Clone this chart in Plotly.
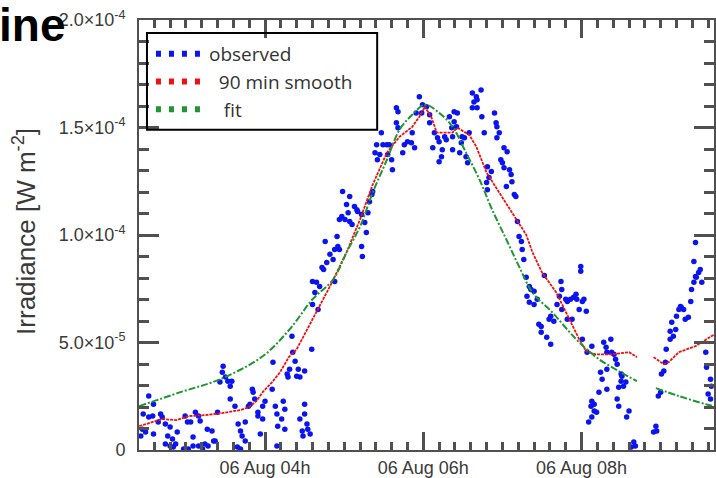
import pandas as pd
import plotly.graph_objects as go

DAY = "2010-08-06"
SCALE = 1e-5  # values below are in units of 1e-5 W m^-2

# ---------------- data (time in decimal hours of 06 Aug) ----------------
obs_hours = [
    2.53, 2.59, 2.46, 2.53, 2.58, 2.68, 2.70, 2.45, 2.49, 2.59,
    2.65, 2.74, 2.80, 2.77, 2.83, 2.87, 2.80, 2.89, 2.99, 3.02,
    3.06, 3.12, 3.16, 3.18, 3.09, 3.09, 3.16, 3.24, 3.28, 3.27,
    3.33, 3.35, 3.40, 3.43, 3.46, 3.47, 3.50, 3.53, 3.58, 3.56,
    3.56, 3.62, 3.66, 3.69, 3.71, 3.75, 3.75, 3.79, 3.81, 3.84,
    3.85, 3.87, 3.91, 3.91, 3.97, 3.97, 4.00, 3.94, 4.09, 4.10,
    4.13, 4.15, 4.16, 4.15, 2.43, 2.97, 3.03, 3.21, 3.65, 3.69,
    2.84, 2.74, 3.37,
    4.23, 4.25, 4.21, 4.25, 4.28, 4.31, 4.35, 4.38, 4.40, 4.42,
    4.34, 4.29, 4.44, 4.50, 4.44, 4.47, 4.50, 4.50, 4.53, 4.54,
    4.48, 4.57, 4.59, 4.60, 4.63, 4.67, 4.60, 4.65, 4.69, 4.72,
    4.74, 4.78, 4.82, 4.86, 4.76, 4.88, 4.92, 4.94, 4.88, 4.91,
    4.94, 4.97, 5.01, 5.05, 5.07, 5.10, 5.03, 5.07, 4.98, 5.13,
    5.16, 5.17, 5.22, 5.26, 5.28, 5.22, 5.23, 5.30, 5.32, 5.35,
    5.36, 5.39, 5.41, 5.42, 5.45, 5.49, 5.54, 5.57, 5.55, 5.60,
    5.61, 5.47, 5.66, 5.68, 5.66, 5.68, 5.76, 5.80, 5.85, 5.86,
    5.74, 5.89, 5.91,
    5.95, 5.99, 6.04, 5.98, 6.08, 6.08, 6.14, 6.18, 6.20, 6.12,
    6.24, 6.23, 6.20, 6.29, 6.27, 6.33, 6.36, 6.39, 6.43, 6.39,
    6.42, 6.37, 6.37, 6.49, 6.52, 6.58, 6.46, 6.54, 6.56, 6.48,
    6.62, 6.67, 6.68, 6.73, 6.64, 6.62, 6.68, 6.74, 6.90, 6.92,
    6.93, 6.96, 6.77, 6.93, 7.02, 7.06, 6.98, 7.00, 7.02, 7.09,
    7.11, 7.12, 7.05, 7.15, 7.17, 6.81, 6.86, 6.83, 6.80, 6.81,
    7.19, 7.21, 7.24, 7.25, 7.27, 7.30, 7.34, 7.36, 7.40, 7.31,
    7.34, 7.40, 7.44, 7.49, 7.49, 7.56, 7.61, 7.59, 7.61, 7.65,
    7.69, 7.72, 7.74, 7.75, 7.80, 7.82, 7.53, 7.46, 7.82, 7.75,
    7.86, 7.90, 7.93, 7.94, 8.01, 8.03, 7.97, 8.06, 7.88, 7.99,
    7.99, 8.01, 8.13, 8.07, 8.28, 8.31, 8.37, 8.38, 8.32, 8.41,
    8.43, 8.45, 8.50, 8.51, 8.32, 8.24, 8.26, 8.32, 8.22, 8.13,
    8.16, 8.12, 8.16, 8.19, 8.13, 8.09, 8.47, 8.50, 8.56, 8.53,
    8.45, 8.47, 8.60, 8.57, 8.66, 8.68, 8.63, 8.94, 8.95, 8.91,
    8.97, 9.00, 9.01, 9.04, 9.06, 9.07, 9.12, 9.16, 9.12, 9.19,
    9.14, 9.20, 9.23, 9.25, 9.26, 9.29, 9.31, 9.35, 9.38, 9.39,
    9.42, 9.44, 9.45, 9.48, 9.50, 9.52, 9.42, 9.44, 9.57, 9.58,
    9.63, 9.60, 9.63, 9.64,
]
obs_vals = [
    2.51, 2.13, 1.67, 1.53, 1.58, 1.67, 1.53, 0.97, 0.84, 0.74,
    1.30, 1.21, 1.07, 0.65, 0.51, 0.28, 0.19, 0.84, 1.58, 1.30,
    1.30, 1.76, 1.58, 1.35, 0.60, 0.19, 0.19, 0.28, 0.19, 0.97,
    0.88, 0.42, 1.76, 3.16, 3.62, 3.90, 3.39, 3.20, 3.20, 2.97,
    2.37, 2.04, 1.21, 0.88, 0.65, 0.42, 1.30, 2.04, 2.13, 2.83,
    2.69, 2.37, 1.76, 1.58, 1.44, 2.04, 2.27, 0.74, 2.83, 4.08,
    2.04, 1.67, 1.11, 0.19, 0.65, 0.05, 0.05, 0.05, 0.14, 0.05,
    0.14, 0.28, 0.42,
    2.27, 1.90, 1.44, 0.97, 3.53, 3.76, 4.55, 4.13, 3.43, 3.76,
    5.29, 3.39, 3.39, 3.67, 1.44, 0.88, 2.13, 1.67, 1.21, 0.97,
    0.65, 0.74, 4.69, 6.77, 7.33, 6.54, 7.84, 7.80, 7.61, 8.49,
    8.40, 8.72, 9.10, 8.86, 9.70, 9.33, 9.47, 9.33, 7.84, 9.93,
    10.72, 10.86, 10.72, 11.04, 10.63, 10.49, 11.42, 11.79, 12.02, 11.32,
    11.18, 11.09, 10.95, 10.58, 10.12, 9.47, 9.00, 11.04, 11.55, 11.88,
    12.02, 13.83, 14.20, 13.50, 13.74, 14.20, 14.20, 14.20, 13.74, 13.50,
    13.04, 14.76, 15.92, 15.73, 15.22, 14.99, 14.20, 14.34, 14.29, 14.76,
    13.83, 14.06, 15.68,
    16.43, 16.06, 15.96, 15.68, 15.59, 15.22, 14.76, 14.52, 14.34, 14.06,
    13.97, 13.64, 13.41, 14.43, 14.57, 15.50, 14.99, 15.73, 15.68, 15.27,
    15.03, 14.57, 13.97, 14.57, 14.52, 14.76, 13.83, 13.64, 13.36, 14.29,
    16.61, 16.43, 16.29, 16.75, 16.19, 15.92, 15.92, 15.50, 15.68, 15.22,
    15.03, 14.76, 14.76, 14.52, 14.06, 13.87, 13.50, 13.36, 13.13, 13.04,
    12.81, 12.48, 12.25, 11.88, 11.79, 13.18, 12.95, 12.67, 12.44, 12.11,
    10.63, 9.93, 9.70, 9.33, 8.86, 8.03, 7.61, 7.47, 7.38, 7.15,
    6.87, 6.77, 7.01, 5.75, 5.48, 5.24, 4.92, 6.08, 6.22, 5.99,
    6.77, 7.15, 7.84, 7.47, 7.01, 6.91, 8.12, 5.85, 6.08, 6.54,
    7.01, 7.10, 7.24, 7.01, 6.91, 7.01, 6.54, 6.45, 6.08, 8.54,
    8.31, 5.15, 4.83, 4.55, 5.01, 4.78, 5.15, 4.55, 4.55, 4.45,
    4.22, 3.99, 3.53, 3.43, 3.76, 3.62, 3.29, 2.83, 2.69, 2.27,
    2.13, 2.04, 1.81, 1.76, 1.53, 1.30, 2.92, 3.20, 3.16, 2.97,
    2.37, 2.04, 1.81, 1.53, 0.37, 0.19, 0.14, 1.11, 0.88, 0.84,
    2.51, 2.69, 3.53, 3.67, 4.08, 4.69, 5.15, 5.29, 5.52, 5.61,
    5.94, 6.22, 6.54, 6.68, 6.64, 6.54, 6.08, 6.17, 6.91, 7.47,
    7.80, 8.07, 8.03, 8.26, 8.40, 7.80, 8.77, 9.65, 4.55, 3.85,
    3.29, 2.60, 2.37, 2.97,
]

smooth_hours = [
    2.41, 2.70, 2.88, 3.04, 3.24, 3.46, 3.69, 3.80, 3.89, 3.97,
    4.09, 4.19, 4.30, 4.40, 4.60, 4.82, 5.03, 5.20, 5.36, 5.54,
    5.70, 5.86, 5.95, 6.02, 6.10, 6.17, 6.24, 6.37, 6.43, 6.58,
    6.67, 6.80, 6.96, 7.12, 7.30, 7.38, 7.50, 7.68, 7.80, 7.97,
    8.06, 8.18, 8.38, 8.60, 8.70, None, 8.91, 9.04, 9.10, 9.23,
    9.44, 9.68,
]
smooth_vals = [
    1.11, 1.44, 1.39, 1.58, 1.62, 1.72, 1.86, 2.00, 2.27, 2.69,
    3.16, 3.62, 4.32, 4.69, 6.08, 7.61, 9.19, 10.72, 12.34, 13.83,
    14.57, 15.03, 15.50, 15.96, 15.50, 14.76, 14.76, 14.76, 14.99, 14.66,
    14.11, 12.90, 11.97, 11.04, 10.02, 9.19, 8.26, 7.33, 6.40, 5.15,
    4.59, 4.45, 4.45, 4.55, 4.32, None, 4.32, 3.99, 4.08, 4.55,
    4.83, 5.38,
]

fit_hours = [
    2.41, 2.93, 3.43, 3.97, 4.31, 4.60, 4.86, 5.03, 5.20, 5.36,
    5.54, 5.70, 5.86, 6.02, 6.20, 6.37, 6.54, 6.71, 6.87, 7.05,
    7.21, 7.38, 7.63, 7.84, 7.97, 8.22, 8.47, 8.70, None, 8.94,
    9.23, 9.57, 9.68,
]
fit_vals = [
    2.04, 2.69, 3.29, 4.36, 5.61, 7.01, 7.93, 9.19, 10.39, 11.97,
    13.50, 14.90, 15.59, 16.06, 15.68, 15.03, 13.83, 12.58, 11.18, 9.79,
    8.54, 7.33, 6.40, 5.52, 5.01, 4.22, 3.67, 3.20, None, 2.88,
    2.51, 2.13, 2.04,
]

y_tickvals = [0, 5e-5, 1e-4, 1.5e-4, 2e-4]
y_ticktext = ["0", "5.0×10<sup>-5</sup>", "1.0×10<sup>-4</sup>",
              "1.5×10<sup>-4</sup>", "2.0×10<sup>-4</sup>"]
legend_names = ["observed", "\u00a0\u00a090 min smooth", "\u00a0\u00a0\u00a0fit"]
legend_colors = ["#0a14f0", "#f01010", "#1e9632"]
title_text = "ine"
y_title = "Irradiance [W m<sup>-2</sup>]"


def to_time(hours):
    base = pd.Timestamp(DAY)
    return [None if h is None else base + pd.to_timedelta(h, unit="h") for h in hours]


def to_val(vals):
    return [None if v is None else v * SCALE for v in vals]


# ---------------- layout geometry ----------------
W, H = 716, 478
L, R, T, B = 139, 0, 20, 27
PW, PH = W - L - R, H - T - B
AX = "#505050"
TXT = "#3a3a3a"


def px_x(p):
    return (p - L) / PW


def px_y(p):
    return (H - B - p) / PH


fig = go.Figure()
fig.add_trace(go.Scatter(
    x=to_time(obs_hours), y=to_val(obs_vals), mode="markers",
    marker=dict(color="#0a14f0", size=5.5, line=dict(width=0)),
    showlegend=False, hoverinfo="skip"))
fig.add_trace(go.Scatter(
    x=to_time(smooth_hours), y=to_val(smooth_vals), mode="lines",
    line=dict(color="#f01010", width=1.8, dash="3px,1px"),
    connectgaps=False, showlegend=False, hoverinfo="skip"))
fig.add_trace(go.Scatter(
    x=to_time(fit_hours), y=to_val(fit_vals), mode="lines",
    line=dict(color="#1e9632", width=2, dash="7px,2px,2px,2px", shape="spline"),
    connectgaps=False, showlegend=False, hoverinfo="skip"))

for name, col in zip(legend_names, legend_colors):
    fig.add_trace(go.Scatter(
        x=[None], y=[None], mode="lines", name=name,
        line=dict(color=col, width=6, dash="5px,8px")))

x_start = pd.Timestamp(DAY) + pd.to_timedelta(2.407, unit="h")
x_end = pd.Timestamp(DAY) + pd.to_timedelta(2.407 + PW / 79.4, unit="h")

fig.update_layout(
    width=W, height=H,
    margin=dict(l=L, r=R, t=T, b=B, pad=0),
    paper_bgcolor="white", plot_bgcolor="white",
    hovermode=False,
    xaxis=dict(
        type="date", range=[x_start, x_end],
        tick0=DAY + " 00:00", dtick=2 * 3600 * 1000,
        tickformat="%d %b %Hh",
        ticks="inside", ticklen=18, tickwidth=2.5, tickcolor=AX,
        showline=True, linecolor=AX, linewidth=2, mirror="ticks",
        showgrid=False, zeroline=False,
        tickfont=dict(family="Liberation Sans, Arial", size=18, color=TXT),
        minor=dict(tick0=DAY + " 00:00", dtick=12 * 60 * 1000,
                   ticks="inside", ticklen=8, tickwidth=2.5, tickcolor=AX),
    ),
    yaxis=dict(
        range=[0, 2e-4], tickmode="array", tickvals=y_tickvals,
        ticktext=y_ticktext,
        ticks="inside", ticklen=20, tickwidth=2.5, tickcolor=AX,
        showline=True, linecolor=AX, linewidth=2, mirror="ticks",
        showgrid=False, zeroline=False,
        tickfont=dict(family="Liberation Sans, Arial", size=18, color=TXT),
        ticklabelstandoff=8,
        minor=dict(tick0=0, dtick=1e-5, ticks="inside", ticklen=10,
                   tickwidth=2.5, tickcolor=AX),
    ),
    legend=dict(
        x=px_x(151), y=px_y(35), xanchor="left", yanchor="top",
        bgcolor="rgba(0,0,0,0)", borderwidth=0, itemwidth=48,
        tracegroupgap=0,
        font=dict(family="Open Sans", size=19, color="#333333"),
    ),
    shapes=[dict(
        type="rect", xref="paper", yref="paper",
        x0=px_x(147), x1=px_x(378), y0=px_y(130), y1=px_y(33),
        line=dict(color="black", width=2), fillcolor="rgba(0,0,0,0)",
        layer="above")],
    annotations=[
        dict(text="<b>" + title_text + "</b>", xref="paper", yref="paper",
             x=px_x(-3), y=px_y(25), xanchor="left", yanchor="middle",
             showarrow=False,
             font=dict(family="Liberation Sans, Arial", size=46, color="black")),
        dict(text=y_title, xref="paper", yref="paper",
             x=px_x(24), y=px_y(232), xanchor="center", yanchor="middle",
             textangle=-90, showarrow=False,
             font=dict(family="Liberation Sans, Arial", size=26, color=TXT)),
    ],
)

fig.write_html("out.html", config={"displayModeBar": False})
